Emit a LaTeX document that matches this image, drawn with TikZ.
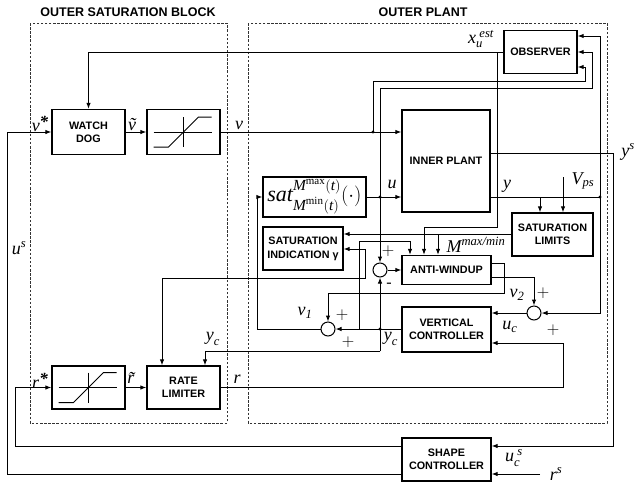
\documentclass[tikz,border=0pt]{standalone}
\usepackage{amsmath}
\usepackage{fontspec}
\setmainfont{Liberation Serif}
\setsansfont{Liberation Sans}
\usetikzlibrary{arrows.meta,calc}
\newcommand{\ti}[1]{\text{\itshape #1}}
\newcommand{\bstar}{\raisebox{3.5pt}{\bfseries\fontsize{17}{17}\selectfont *}}
\begin{document}
\begin{tikzpicture}[x=1pt,y=-1pt,
  blk/.style={draw,line width=1.3pt,inner sep=0pt,font=\sffamily\bfseries\fontsize{10.8}{13}\selectfont,align=center},
  ln/.style={line width=1pt},
  arr/.style={ln,-{Latex[length=6pt,width=4.5pt]}},
  darr/.style={ln,{Latex[length=6pt,width=4.5pt]}-{Latex[length=6pt,width=4.5pt]}},
  sumc/.style={draw,circle,line width=1pt,minimum size=14pt,inner sep=0pt},
  lbl/.style={font=\fontsize{18}{20}\selectfont,inner sep=0pt},
  pm/.style={font=\fontsize{16}{16}\selectfont,inner sep=0pt},
  jdot/.style={circle,fill,inner sep=0pt,minimum size=3.2pt},
  frame/.style={draw=black!80,line width=0.8pt,dash pattern=on 2.5pt off 1.6pt},
  ttl/.style={font=\sffamily\bfseries\fontsize{12.5}{14}\selectfont}
]
\useasboundingbox (0,0) rectangle (634,485);
% frames and titles
\draw[frame] (30,23) rectangle (227,423);
\draw[frame] (248,23) rectangle (607,423);
\node[ttl] (t1) at (128,12) {OUTER SATURATION BLOCK};
\node[ttl] (t2) at (423,12) {OUTER PLANT};
% blocks
\node[blk,minimum width=73pt,minimum height=45pt] (wd) at (88.5,132) {WATCH\\DOG};
\node[blk,minimum width=73pt,minimum height=45pt] (sat1) at (183.5,132) {};
\node[blk,minimum width=73pt,minimum height=43pt] (sat2) at (88.5,387.5) {};
\node[blk,minimum width=73pt,minimum height=43pt] (rl) at (183.5,387.5) {RATE\\LIMITER};
\node[blk,minimum width=73pt,minimum height=43pt] (obs) at (540.5,52) {OBSERVER};
\node[blk,minimum width=88pt,minimum height=102pt] (ip) at (446,161) {INNER PLANT};
\node[blk,minimum width=103pt,minimum height=40pt,font=\fontsize{22}{24}\selectfont] (satb) at (314.5,197) {$\ti{sat}^{\ti{M}^{\max}(\ti{t})}_{\ti{M}^{\min}(\ti{t})}(\cdot)$};
\node[blk,minimum width=80pt,minimum height=43pt] (si) at (303,248.5) {SATURATION\\[1pt]INDICATION γ};
\node[blk,minimum width=81pt,minimum height=43pt] (sl) at (552.5,234.5) {SATURATION\\LIMITS};
\node[blk,minimum width=89pt,minimum height=29pt] (aw) at (446.5,270) {ANTI-WINDUP};
\node[blk,minimum width=89pt,minimum height=45pt] (vc) at (446.5,329.5) {VERTICAL\\CONTROLLER};
\node[blk,minimum width=89pt,minimum height=43pt] (sc) at (446.5,459.5) {SHAPE\\CONTROLLER};
\node[sumc] (c0) at (380,270) {};
\node[sumc] (c1) at (328,329) {};
\node[sumc] (c2) at (534,313) {};
% saturation graphics
\foreach \s in {sat1,sat2}{
  \draw[ln] ($(\s.center)+(-30,0)$) -- ($(\s.center)+(28,0)$);
  \draw[ln] ($(\s.center)+(0,-15)$) -- ($(\s.center)+(0,15)$);
  \draw[ln] ($(\s.center)+(-30,15)$) -- ($(\s.center)+(-15,15)$) -- ($(\s.center)+(15,-15)$) -- ($(\s.center)+(28,-15)$);
}
% junction coordinates
\coordinate (jv) at (373,132);
\coordinate (ju) at (380,197);
\coordinate (jy) at (600,197);
\coordinate (jx) at (497,52);
\coordinate (jc) at (380,329);
% connectors
\draw[arr] (sc.west |- 0,474) -| (7,132) -- (wd.west);
\draw[arr] (sc.west |- 0,446) -| (15,387.5) -- (sat2.west);
\draw[arr] (wd.east) -- (sat1.west);
\draw[arr] (sat1.east) -- (ip.west |- sat1.east);
\draw[arr] (jv) |- (585,81) |- (obs.east |- 0,67);
\draw[arr] (satb.east) -- (ip.west |- satb.east);
\draw[arr] (ju) |- (592,88) |- (obs.east);
\draw[arr] (ju) -- (c0.north);
\draw[ln] (ip.east |- jy) -- (jy);
\draw[arr] (jy) |- (obs.east |- 0,36);
\draw[arr] (jy) |- (c2.east);
\draw[arr] (540,197) -- (sl.north -| 540,0);
\draw[arr] (563,177) -- (sl.north -| 563,0);
\draw[arr] (ip.east |- 0,153) -| (613,446) -- (sc.east |- 0,446);
\draw[arr] (540,474) -- (sc.east |- 0,474);
\draw[arr] (obs.west) -| (wd.north);
\draw[arr] (jx) |- (424,227) -- (aw.north -| 424,0);
\draw[arr] (sl.west |- 0,234) -- (si.east |- 0,234);
\draw[arr] (438,234) -- (aw.north -| 438,0);
\draw[arr] (359,329) |- (410,241) -- (aw.north -| 410,0);
\draw[darr] (si.east |- 0,249) -| (365,278) -| (rl.north -| 162,0);
\draw[arr] (c0.east) -- (aw.west);
\draw[arr] (aw.east |- 0,263) -| (504,293) -| (c1.north);
\draw[arr] (aw.east |- 0,277) -| (c2.north);
\draw[arr] (c2.west) -- (vc.east |- c2.west);
\draw[arr] (rl.east) -| (563,343) -- (vc.east |- 0,343);
\draw[arr] (vc.west |- jc) -- (c1.east);
\draw[arr] (380,351) -- (c0.south);
\draw[arr] (380,351) -| (rl.north -| 205,0);
\draw[arr] (c1.west) -| (257,197) -- (satb.west);
\draw[arr] (sat2.east) -- (rl.west);
% dots
\foreach \p in {jv,ju,jy,jc}{\node[jdot] at (\p) {};}
% labels
\node[lbl] (lvs) at (40,124) {\itshape v\bstar};
\node[lbl] (lvt) at (132,125) {\itshape \~{v}};
\node[lbl] (lv) at (239,125) {$\ti{v}$};
\node[lbl] (lx) at (481,39) {$\ti{x}_{\ti{u}}^{\;\ti{est}}$};
\node[lbl] (lu) at (392,184) {$\ti{u}$};
\node[lbl] (ly) at (507,186) {$\ti{y}$};
\node[lbl] (lvps) at (583,181) {$\ti{V}_{\ti{ps}}$};
\node[lbl] (lys) at (628,152) {$\ti{y}^{\ti{s}}$};
\node[lbl] (lus) at (19,248) {$\ti{u}^{\ti{s}}$};
\node[lbl] (lrs) at (40,381) {\itshape r\bstar};
\node[lbl] (lrt) at (131,378) {\itshape \~{r}};
\node[lbl] (lr) at (237,379) {$\ti{r}$};
\node[lbl] (lyc1) at (213,339) {$\ti{y}_{\ti{c}}$};
\node[lbl] (lyc2) at (391,339) {$\ti{y}_{\ti{c}}$};
\node[lbl] (luc) at (510,327) {$\ti{u}_{\ti{c}}$};
\node[lbl] (lucs) at (514,458) {$\ti{u}_{\ti{c}}^{\;\ti{s}}$};
\node[lbl] (lrss) at (556,474) {$\ti{r}^{\ti{s}}$};
\node[lbl] (lm) at (476,245) {$\ti{M}^{\ti{max/min}}$};
\node[lbl] (lv1) at (305,313) {$\ti{v}_{\ti{1}}$};
\node[lbl] (lv2) at (517,295) {$\ti{v}_{\ti{2}}$};
\node[pm] (p1) at (388,251) {$+$};
\node[pm] (p2) at (389,285) {-};
\node[pm] (p3) at (543,293) {$+$};
\node[pm] (p4) at (553,330) {$+$};
\node[pm] (p5) at (342,315) {$+$};
\node[pm] (p6) at (348,342) {$+$};
\end{tikzpicture}
\end{document}
